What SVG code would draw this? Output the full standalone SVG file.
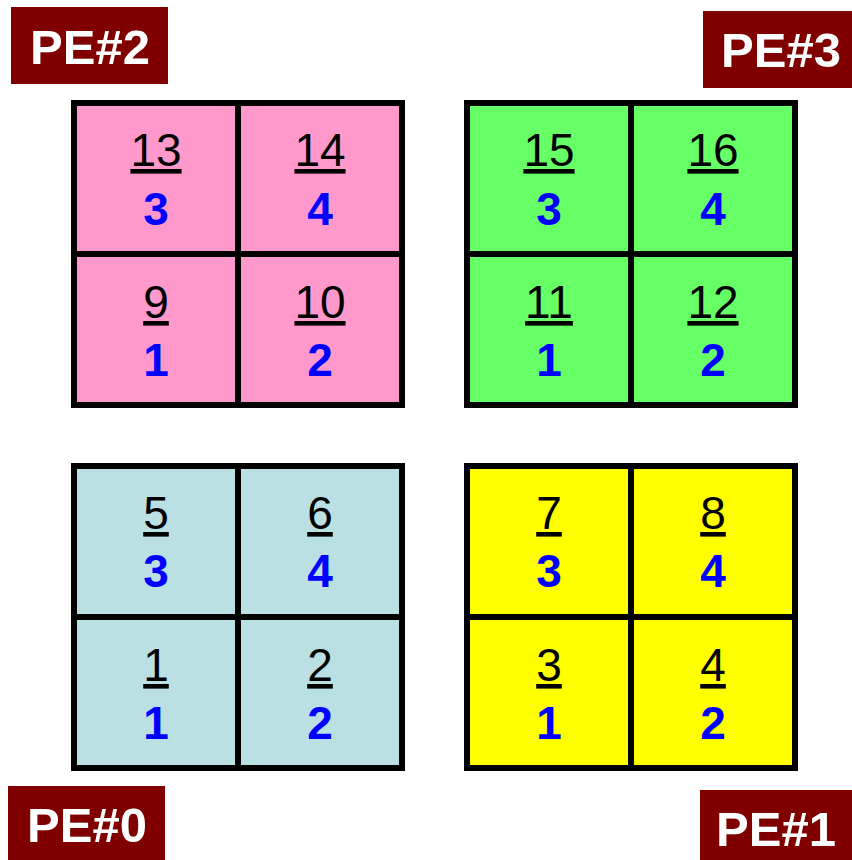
<svg xmlns="http://www.w3.org/2000/svg" width="852" height="860" viewBox="0 0 852 860">
<style>
.pe{fill:#800000}
.pet{font-family:"Liberation Sans",Arial,sans-serif;font-weight:bold;font-size:49px;fill:#fff;text-anchor:middle}
.c{stroke:#000;stroke-width:6}
.g{fill:#000;font-family:"Liberation Sans",Arial,sans-serif;font-size:46px;text-anchor:middle;text-decoration:underline;text-decoration-thickness:3px;text-underline-offset:6px}
.l{fill:#0000FF;font-family:"Liberation Sans",Arial,sans-serif;font-weight:bold;font-size:46px;text-anchor:middle}
.pink{fill:#FF99CC}.green{fill:#66FF66}.cyan{fill:#BBE0E3}.yel{fill:#FFFF00}
</style>
<rect width="852" height="860" fill="#fff"/>
<g id="connectors"/>

<g id="pe2">
<g id="c13"><rect class="c pink" x="74" y="103" width="164" height="151"/><text class="g" x="156" y="166">13</text><text class="l" x="156" y="225">3</text></g>
<g id="c14"><rect class="c pink" x="238" y="103" width="164" height="151"/><text class="g" x="320" y="166">14</text><text class="l" x="320" y="225">4</text></g>
<g id="c9"><rect class="c pink" x="74" y="254" width="164" height="151"/><text class="g" x="156" y="318">9</text><text class="l" x="156" y="376">1</text></g>
<g id="c10"><rect class="c pink" x="238" y="254" width="164" height="151"/><text class="g" x="320" y="318">10</text><text class="l" x="320" y="376">2</text></g>
</g>

<g id="pe3">
<g id="c15"><rect class="c green" x="467" y="103" width="164" height="151"/><text class="g" x="549" y="166">15</text><text class="l" x="549" y="225">3</text></g>
<g id="c16"><rect class="c green" x="631" y="103" width="164" height="151"/><text class="g" x="713" y="166">16</text><text class="l" x="713" y="225">4</text></g>
<g id="c11"><rect class="c green" x="467" y="254" width="164" height="151"/><text class="g" x="549" y="318">11</text><text class="l" x="549" y="376">1</text></g>
<g id="c12"><rect class="c green" x="631" y="254" width="164" height="151"/><text class="g" x="713" y="318">12</text><text class="l" x="713" y="376">2</text></g>
</g>

<g id="pe0">
<g id="c5"><rect class="c cyan" x="74" y="466" width="164" height="151"/><text class="g" x="156" y="529">5</text><text class="l" x="156" y="587">3</text></g>
<g id="c6"><rect class="c cyan" x="238" y="466" width="164" height="151"/><text class="g" x="320" y="529">6</text><text class="l" x="320" y="587">4</text></g>
<g id="c1"><rect class="c cyan" x="74" y="617" width="164" height="151"/><text class="g" x="156" y="681">1</text><text class="l" x="156" y="739">1</text></g>
<g id="c2"><rect class="c cyan" x="238" y="617" width="164" height="151"/><text class="g" x="320" y="681">2</text><text class="l" x="320" y="739">2</text></g>
</g>

<g id="pe1">
<g id="c7"><rect class="c yel" x="467" y="466" width="164" height="151"/><text class="g" x="549" y="529">7</text><text class="l" x="549" y="587">3</text></g>
<g id="c8"><rect class="c yel" x="631" y="466" width="164" height="151"/><text class="g" x="713" y="529">8</text><text class="l" x="713" y="587">4</text></g>
<g id="c3"><rect class="c yel" x="467" y="617" width="164" height="151"/><text class="g" x="549" y="681">3</text><text class="l" x="549" y="739">1</text></g>
<g id="c4"><rect class="c yel" x="631" y="617" width="164" height="151"/><text class="g" x="713" y="681">4</text><text class="l" x="713" y="739">2</text></g>
</g>

<g id="label-pe2"><rect class="pe" x="11" y="7" width="157" height="77"/><text class="pet" x="90" y="64">PE#2</text></g>
<g id="label-pe3"><rect class="pe" x="703" y="11" width="149" height="77"/><text class="pet" x="781" y="67">PE#3</text></g>
<g id="label-pe0"><rect class="pe" x="8" y="786" width="157" height="74"/><text class="pet" x="87" y="842">PE#0</text></g>
<g id="label-pe1"><rect class="pe" x="700" y="790" width="152" height="70"/><text class="pet" x="776" y="846">PE#1</text></g>
</svg>
